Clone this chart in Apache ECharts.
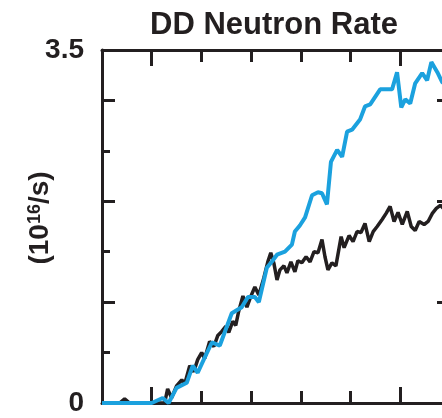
<!DOCTYPE html>
<html>
<head>
<meta charset="utf-8">
<script src="https://cdn.jsdelivr.net/npm/echarts@6/dist/echarts.min.js"></script>
<style>
html,body{margin:0;padding:0;overflow:hidden;background:#fff;}
#c{width:470px;height:418px;}
</style>
</head>
<body>
<div id="c"></div>
<script>
// time (s) and DD neutron rate (10^16/s)
const blueTime = [0.80,1.00,1.044,1.068,1.10,1.141,1.165,1.185,1.213,1.242,1.274,1.322,1.362,1.387,1.415,1.431,1.463,1.483,1.504,1.536,1.564,1.576,1.596,1.617,1.645,1.669,1.685,1.705,1.721,1.746,1.766,1.786,1.806,1.838,1.858,1.879,1.919,1.967,1.987,2.004,2.020,2.040,2.060,2.088,2.108,2.125,2.149,2.169,2.19];
const blueRate = [0,0,0.05,0,0.15,0.20,0.37,0.30,0.45,0.60,0.57,0.89,0.95,1.05,1.05,1.00,1.34,1.40,1.47,1.50,1.57,1.70,1.76,1.84,2.06,2.09,2.08,1.97,2.39,2.51,2.44,2.69,2.71,2.81,2.94,2.96,3.11,3.11,3.28,2.93,3.01,2.97,3.17,3.27,3.20,3.38,3.28,3.18,3.15];

const blackTime = [0.80,0.871,0.891,0.911,1.052,1.064,1.080,1.100,1.121,1.133,1.153,1.169,1.185,1.201,1.213,1.233,1.250,1.266,1.282,1.298,1.310,1.326,1.338,1.350,1.367,1.383,1.399,1.415,1.431,1.451,1.467,1.479,1.492,1.504,1.516,1.532,1.544,1.560,1.576,1.588,1.604,1.621,1.637,1.653,1.669,1.685,1.697,1.709,1.725,1.741,1.762,1.774,1.794,1.810,1.826,1.842,1.858,1.875,1.891,1.907,1.927,1.943,1.959,1.975,1.991,2.008,2.028,2.044,2.060,2.076,2.096,2.112,2.129,2.145,2.161,2.181];
const blackRate = [0,0,0.04,0,0,0.14,0.05,0.17,0.23,0.19,0.37,0.31,0.43,0.50,0.44,0.61,0.56,0.67,0.71,0.76,0.70,0.81,0.77,0.91,1.06,0.95,1.06,1.15,1.07,1.24,1.40,1.49,1.38,1.22,1.32,1.36,1.29,1.40,1.30,1.41,1.39,1.45,1.40,1.50,1.49,1.62,1.45,1.32,1.39,1.36,1.65,1.54,1.66,1.60,1.70,1.69,1.78,1.60,1.70,1.75,1.82,1.88,1.95,1.80,1.89,1.77,1.90,1.75,1.71,1.80,1.77,1.80,1.88,1.93,1.96,1.91];

const xMin = 0.8, xMax = 2.2, xStep = 0.2;
const xMajorTicks = [1.0, 2.0];
const yMin = 0, yMax = 3.5, yStep = 0.5;
const yMajorTicks = [1, 2, 3];
const yTickLabels = [0, 3.5];

const INK = '#231f20';
const BLUE = '#1ba1de';
const GRID = {left:102, top:50, width:348, height:353};

function xAx(grid, pos, major){
  return {
    type:'value', gridIndex:grid, position:pos, min:xMin, max:xMax,
    interval: major ? undefined : xStep,
    axisLine:{show:!major, onZero:false, lineStyle:{color:INK, width:3}},
    axisTick: major
      ? {show:true, inside:true, length:16, customValues:xMajorTicks, lineStyle:{color:INK, width:3}}
      : {show:true, inside:true, length:12, lineStyle:{color:INK, width:3}},
    axisLabel:{show:false}, splitLine:{show:false}
  };
}
function yAx(grid, pos, major, labels){
  return {
    type:'value', gridIndex:grid, position:pos, min:yMin, max:yMax,
    interval: major ? undefined : yStep,
    axisLine:{show:!major, onZero:false, lineStyle:{color:INK, width:3}},
    axisTick: major
      ? {show:true, inside:true, length:13, customValues:yMajorTicks, lineStyle:{color:INK, width:3}}
      : {show:true, inside:true, length:8, lineStyle:{color:INK, width:3}},
    axisLabel: labels ? {
      show:true, showMinLabel:true, showMaxLabel:true, margin:18,
      color:INK, fontFamily:'Liberation Sans, Arial, sans-serif', fontWeight:'bold', fontSize:28,
      formatter:function(v){ return yTickLabels.some(t=>Math.abs(t-v)<1e-9) ? String(v) : ''; }
    } : {show:false},
    splitLine:{show:false}
  };
}

const chart = echarts.init(document.getElementById('c'), null, {renderer:'canvas'});
chart.setOption({
  animation:false,
  backgroundColor:'#fff',
  title:{
    text:'DD Neutron Rate', left:269, top:5, textAlign:'center',
    textStyle:{color:INK, fontFamily:'Liberation Sans, Arial, sans-serif', fontWeight:'bold', fontSize:31}
  },
  grid:[Object.assign({}, GRID), Object.assign({}, GRID)],
  xAxis:[xAx(0,'bottom',false), xAx(0,'top',false), xAx(1,'bottom',true), xAx(1,'top',true)],
  yAxis:[yAx(0,'left',false,true), yAx(0,'right',false,false), yAx(1,'left',true,false), yAx(1,'right',true,false)],
  graphic:[{
    type:'text', x:40, y:218, rotation:Math.PI/2,
    style:{
      text:'(10{s|16}/s)', align:'center', verticalAlign:'middle',
      fill:INK, font:'bold 28px "Liberation Sans", Arial, sans-serif',
      rich:{ s:{fontSize:18, fontWeight:'bold', fontFamily:'Liberation Sans, Arial, sans-serif', fill:INK, verticalAlign:'top', padding:[0,0,10,0]} }
    }
  }],
  series:[
    {type:'line', xAxisIndex:0, yAxisIndex:0, symbol:'none', z:2,
     lineStyle:{color:INK, width:3.5}, data:blackTime.map((t,i)=>[t, blackRate[i]])},
    {type:'line', xAxisIndex:0, yAxisIndex:0, symbol:'none', z:3,
     lineStyle:{color:BLUE, width:4}, data:blueTime.map((t,i)=>[t, blueRate[i]])}
  ]
});
</script>
</body>
</html>
